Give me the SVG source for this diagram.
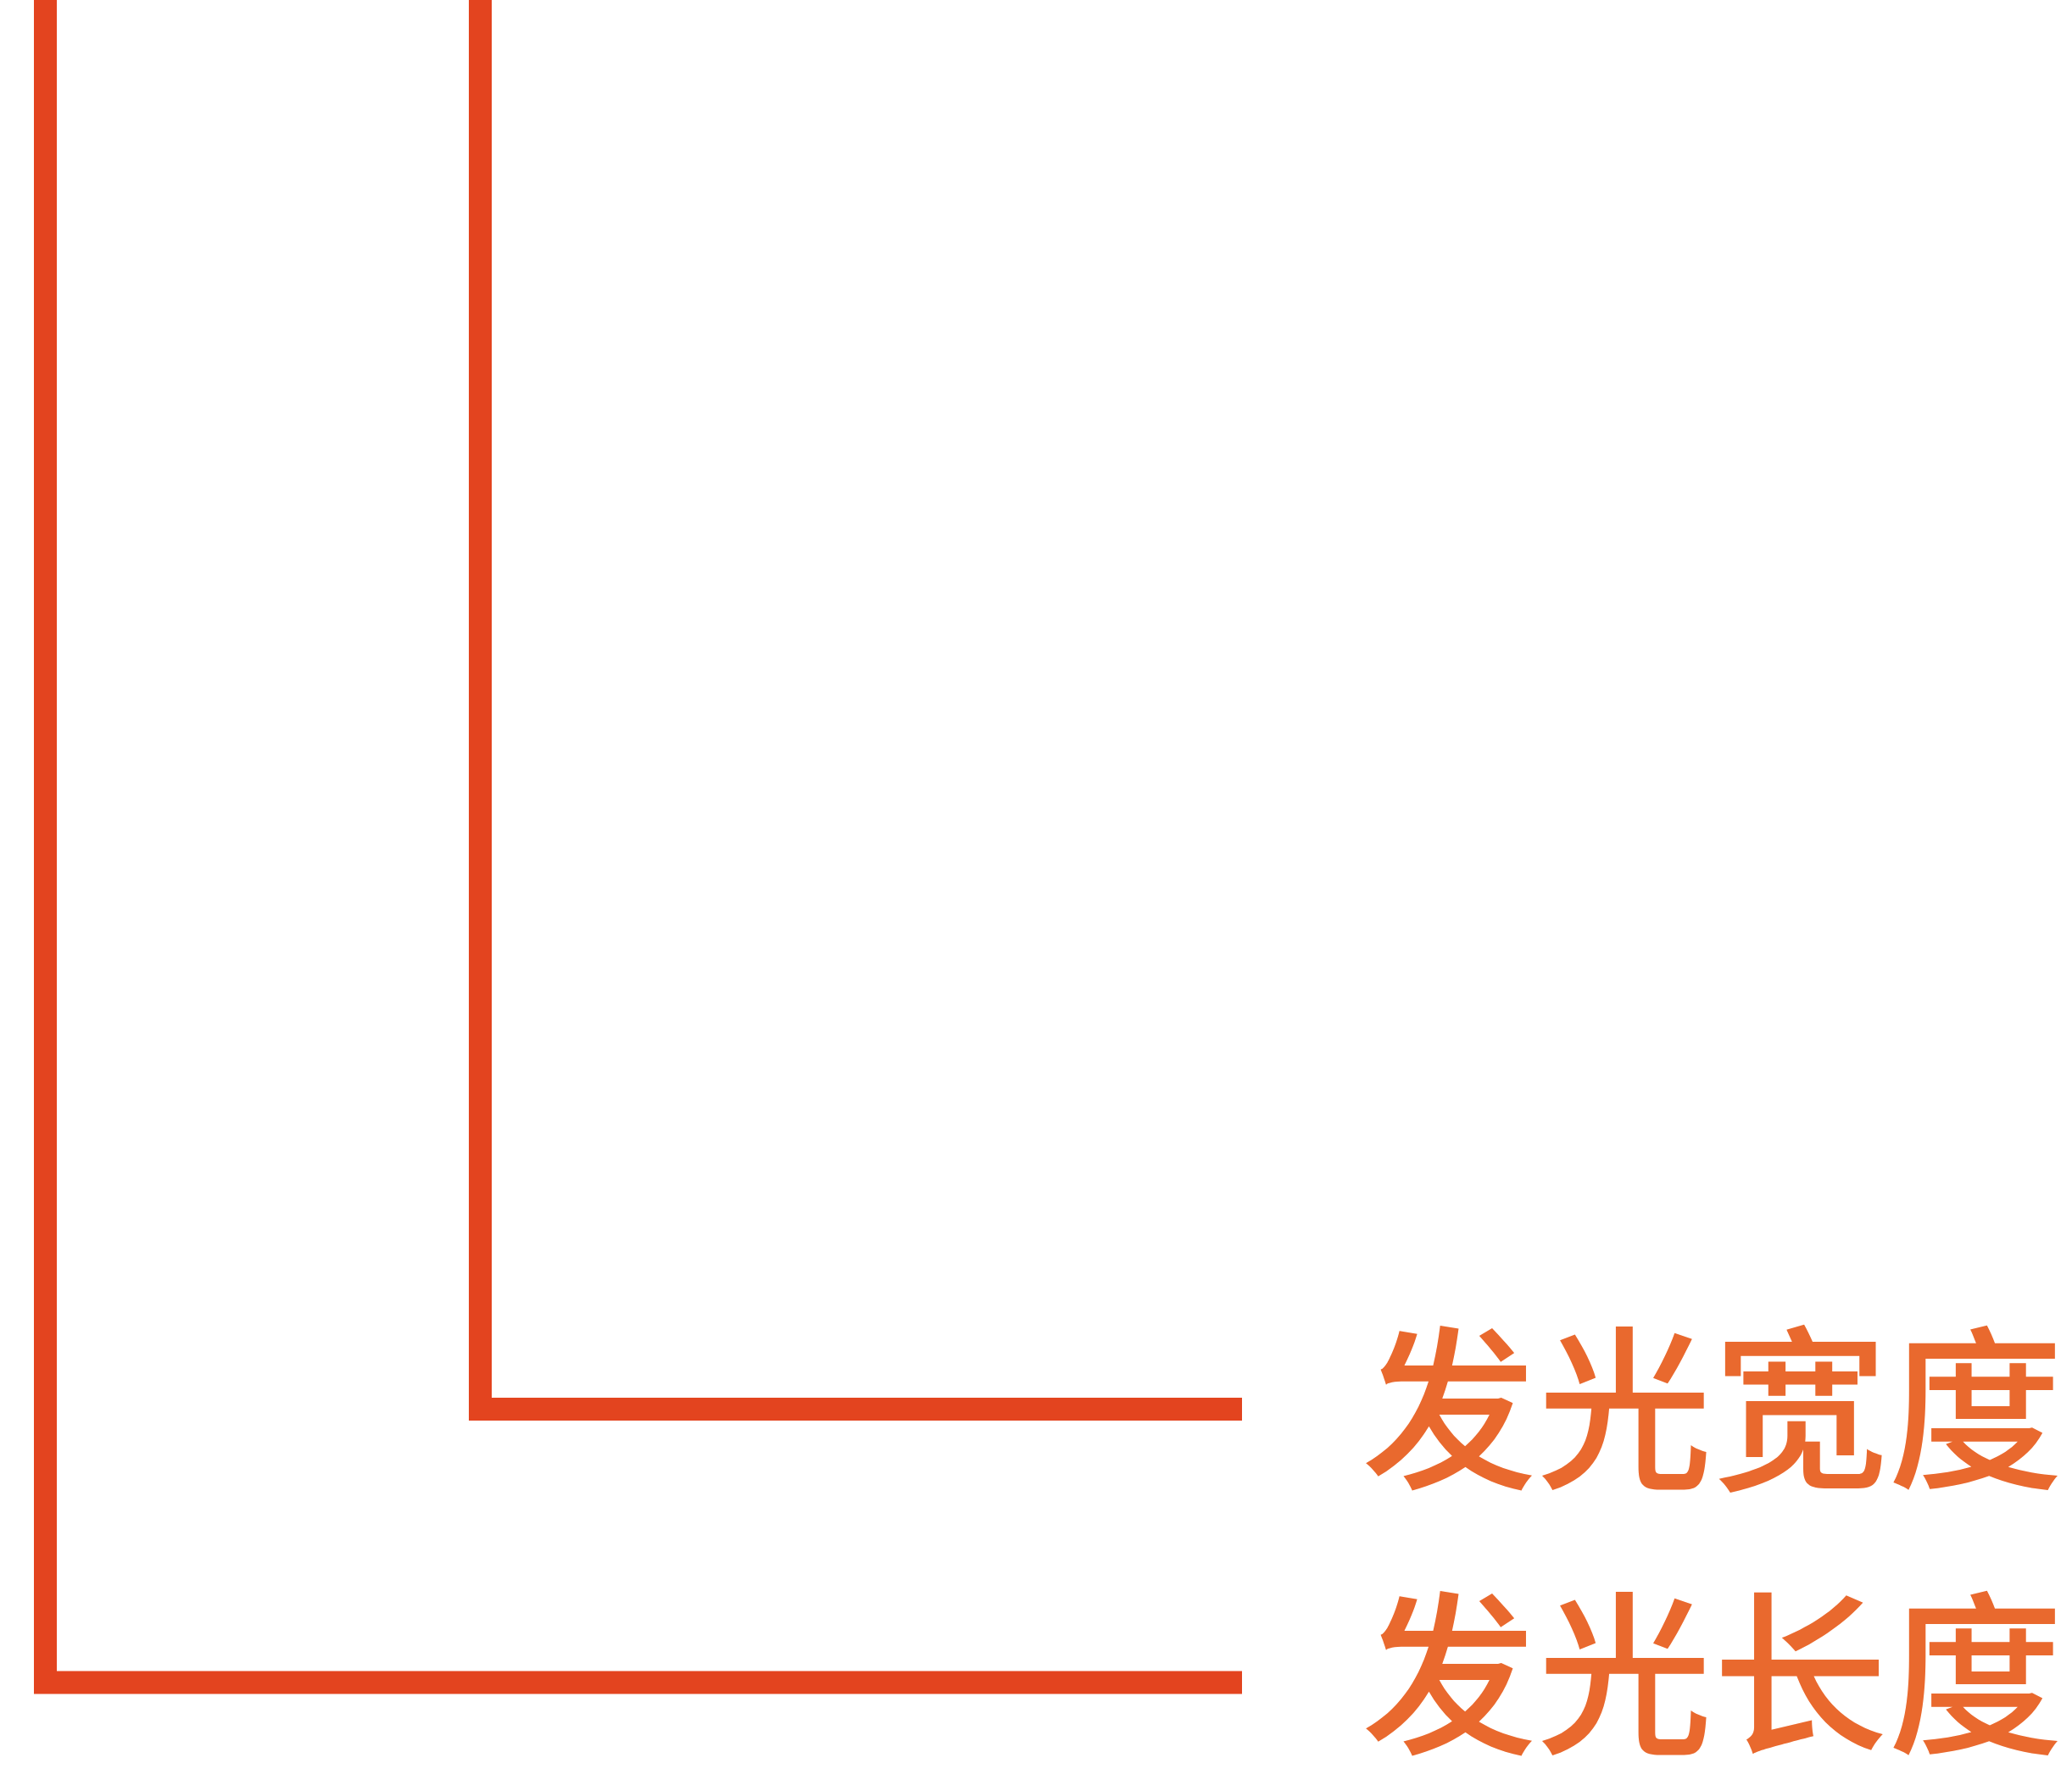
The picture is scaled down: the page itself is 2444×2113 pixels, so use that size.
<svg xmlns="http://www.w3.org/2000/svg" width="2444" height="2113" viewBox="0 0 2444 2113">
<style>
.ln{fill:none;stroke:#E3441F;stroke-width:27;stroke-linecap:butt;stroke-linejoin:miter}
.lb{font-family:"Noto Sans CJK SC","Noto Sans CJK JP",sans-serif;font-size:207px;font-weight:500;fill:#E9692E}
</style>
<rect width="2444" height="2113" fill="#FFFFFF"/>
<g id="connectors">
<path class="ln" d="M566.5,0 V1662.5 H1465"/>
<path class="ln" d="M53.5,0 V1985 H1465"/>
</g>
<g id="label-width"><text class="lb" x="1606" y="1740">发光宽度</text></g>
<g id="label-length"><text class="lb" x="1606" y="2053">发光长度</text></g>
</svg>
